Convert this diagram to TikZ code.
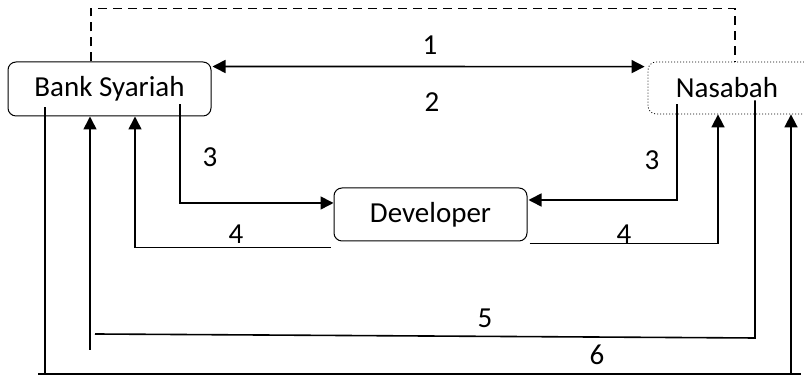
\documentclass[tikz,border=0pt]{standalone}
\usepackage{fontspec}
\setmainfont{Carlito}
\usetikzlibrary{arrows.meta,calc}
\begin{document}
\begin{tikzpicture}[x=1pt,y=1pt,
  every node/.style={font=\fontsize{29}{34}\selectfont},
  boxst/.style={draw,rounded corners=8pt,line width=1pt,inner sep=0pt},
  ln/.style={line width=1.6pt},
  arr/.style={line width=1.6pt,-{Triangle[length=13pt,width=13pt]}},
  lbl/.style={inner sep=0pt}]
\useasboundingbox (0,0) rectangle (804,379);
\node[boxst,minimum width=203pt,minimum height=54pt] (bank) at (109.5,290) {Bank Syariah};
\node[boxst,dotted,line width=0.8pt,minimum width=170pt,minimum height=52pt] (nasa) at (733,291) {\hspace*{-6pt}Nasabah\hspace*{6pt}};
\node[boxst,minimum width=193pt,minimum height=53pt] (dev) at (430.5,164.5) {Developer};
% dashed link
\draw[ln,dashed,dash pattern=on 9pt off 6pt] ([xshift=-18.5]bank.north) -- ++(0,53) -| ([xshift=2]nasa.north);
% 1
\draw[line width=1.6pt,{Triangle[length=13pt,width=13pt]}-{Triangle[length=13pt,width=13pt]}] ([xshift=1,yshift=-5]bank.north east) -- ([xshift=-3,yshift=-5]nasa.north west);
\node[lbl] (l1) at (430,334) {1};
\node[lbl] (l2) at (432,277) {2};
% 3
\draw[arr] ([xshift=70.5,yshift=12]bank.south) |- ([yshift=11.5]dev.west);
\node[lbl] (l3a) at (210,222) {3};
\draw[arr] ([xshift=-56,yshift=10]nasa.south) |- ([xshift=1,yshift=14.5]dev.east);
\node[lbl] (l3b) at (652,219) {3};
% 4
\draw[arr] ([xshift=-3,yshift=-6]dev.south west) -| ([xshift=25.5]bank.south);
\node[lbl] (l4a) at (236,145) {4};
\draw[arr] ([xshift=2,yshift=-2]dev.south east) -| ([xshift=-15]nasa.south);
\node[lbl] (l4b) at (624,145) {4};
% 5
\coordinate (p5a) at ([xshift=22,yshift=14]nasa.south);
\coordinate (p5b) at (755,41);
\coordinate (p5c) at (95,45);
\coordinate (p5d) at (90,29);
\draw[ln] (p5a) -- (p5b) -- (p5c);
\draw[arr] (p5d) -- (p5d |- bank.south);
\node[lbl] (l5) at (485,61) {5};
% 6
\coordinate (p6a) at ([xshift=-64.5,yshift=9]bank.south);
\coordinate (p6b) at (45,5);
\draw[ln] (p6a) -- (p6b);
\draw[arr] (38,5) -| ([xshift=58]nasa.south);
\draw[ln] (790,5) -- (801,5);
\node[lbl] (l6) at (597,24) {6};
\end{tikzpicture}
\end{document}
